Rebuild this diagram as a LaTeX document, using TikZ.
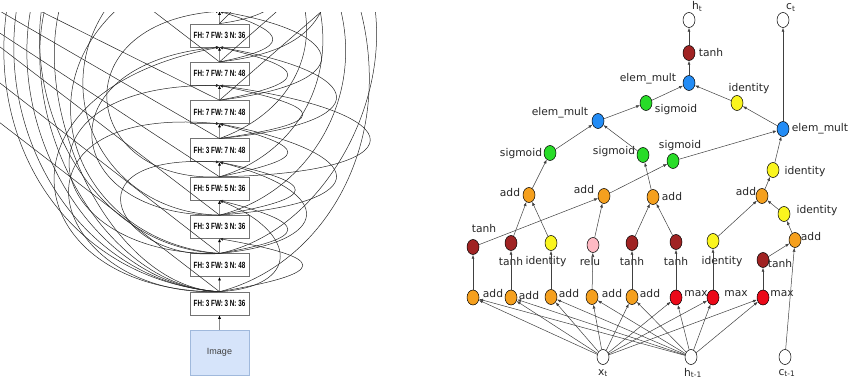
\documentclass[tikz,border=0pt]{standalone}
\usepackage{fontspec}
\setmainfont{DejaVu Sans}
\newfontfamily\boxfont{Liberation Sans}
\usepackage{graphicx}
\usetikzlibrary{arrows.meta,shapes.geometric}
\definecolor{cOrange}{RGB}{245,160,30}
\definecolor{cBrown}{RGB}{160,35,35}
\definecolor{cYellow}{RGB}{250,245,30}
\definecolor{cPink}{RGB}{255,185,195}
\definecolor{cGreen}{RGB}{40,220,40}
\definecolor{cBlue}{RGB}{35,140,245}
\definecolor{cRed}{RGB}{235,10,25}
\definecolor{imgfill}{RGB}{214,228,250}
\definecolor{imgborder}{RGB}{160,185,220}
\newcommand\boxtxt[1]{\scalebox{0.7}[1]{\boxfont\bfseries\fontsize{9}{10}\selectfont #1}}
\begin{document}
\begin{tikzpicture}[x=1pt,y=1pt,
  cbox/.style={draw=black!55, fill=white, line width=0.6pt, minimum width=59pt, minimum height=23pt, inner sep=0pt},
  imgbox/.style={draw=imgborder, fill=imgfill, line width=0.6pt, minimum width=59pt, minimum height=45pt, inner sep=0pt, font=\boxfont\fontsize{9}{10}\selectfont, text=black!75},
  vlink/.style={draw=black!45, line width=0.6pt, -{Latex[length=3.5pt,width=3pt,color=black]}},
  skip/.style={draw=black!85, line width=0.5pt, -{Latex[length=3.5pt,width=3pt]}},
  op/.style={ellipse, draw=black, line width=0.5pt, minimum width=12pt, minimum height=15pt, inner sep=0pt},
  lbl/.style={inner sep=0pt, font=\fontsize{10.7}{12}\selectfont, text=black!85},
  link/.style={draw=black!75, line width=0.5pt, -{Latex[length=4pt,width=3pt]}},
]
\useasboundingbox (0,0) rectangle (865,383);
\clip (0,0) rectangle (865,383);
% ---------------- left panel ----------------
\begin{scope}
\clip (0,0) rectangle (440,370);
\node[cbox] (b0) at (219.5,383.5) {};
\node[cbox] (b1) at (219.5,347.6) {\boxtxt{FH: 7 FW: 3 N: 36}};
\node[cbox] (b2) at (219.5,309.3) {\boxtxt{FH: 7 FW: 7 N: 48}};
\node[cbox] (b3) at (219.5,271.0) {\boxtxt{FH: 7 FW: 7 N: 48}};
\node[cbox] (b4) at (219.5,232.7) {\boxtxt{FH: 3 FW: 7 N: 48}};
\node[cbox] (b5) at (219.5,194.4) {\boxtxt{FH: 5 FW: 5 N: 36}};
\node[cbox] (b6) at (219.5,156.1) {\boxtxt{FH: 3 FW: 3 N: 36}};
\node[cbox] (b7) at (219.5,117.8) {\boxtxt{FH: 3 FW: 3 N: 48}};
\node[cbox] (b8) at (219.5,79.5) {\boxtxt{FH: 3 FW: 3 N: 36}};
\node[imgbox] (img) at (219.5,30.5) {Image};
\draw[vlink] (img) -- (b8);
\draw[vlink] (b8) -- (b7);
\draw[vlink] (b7) -- (b6);
\draw[vlink] (b6) -- (b5);
\draw[vlink] (b5) -- (b4);
\draw[vlink] (b4) -- (b3);
\draw[vlink] (b3) -- (b2);
\draw[vlink] (b2) -- (b1);
\draw[vlink] (b1) -- (b0);
% free ends beyond the top / left edge
\coordinate (el1) at (20,392);
\coordinate (el2) at (35,392);
\coordinate (el3) at (10,392);
\coordinate (el4) at (50,392);
\coordinate (el5) at (65,392);
\coordinate (el6) at (45,392);
\coordinate (el7) at (140,392);
\coordinate (el8) at (120,392);
\coordinate (el9) at (-40,366.7);
\coordinate (el10) at (-40,376);
\coordinate (el11) at (-40,395);
\coordinate (el12) at (-40,291);
\coordinate (el13) at (20,382);
\coordinate (el14) at (140,382);
\coordinate (el15) at (-40,331);
\coordinate (er1) at (355,392);
\coordinate (er2) at (372,392);
\coordinate (er3) at (335,392);
\coordinate (er4) at (315,392);
\coordinate (er5) at (300,392);
\coordinate (er6) at (345,392);
\coordinate (er7) at (300,392);
\coordinate (er8) at (252,392);
\coordinate (er9) at (285,392);
\coordinate (er10) at (328,392);
% left C-shaped arcs leaving the picture at the top
\draw[skip] (b8.north) .. controls (80,100) and (-10,250) .. (el1);
\draw[skip] (b8.north) .. controls (90,98) and (0,260) .. (el2);
\draw[skip] (b8.north) .. controls (70,103) and (-20,240) .. (el3);
\draw[skip] (b8.north) .. controls (100,96) and (10,270) .. (el4);
\draw[skip] (b8.north) .. controls (110,95) and (25,280) .. (el5);
\draw[skip] (b7.north) .. controls (90,135) and (20,280) .. (el6);
\draw[skip] (b7.north) .. controls (80,140) and (10,300) .. (el7);
\draw[skip] (b6.north) .. controls (100,170) and (40,300) .. (el8);
% left arcs coming back to boxes
\draw[skip] (b8.north) .. controls (20,90) and (-20,290) .. (b1.south);
\draw[skip] (b7.north) .. controls (40,125) and (0,300) .. (b2.south);
\draw[skip] (b8.north) .. controls (50,85) and (-10,280) .. (b3.south);
\draw[skip] (b6.north) .. controls (60,165) and (40,320) .. (b1.south);
\draw[skip] (b5.north) .. controls (80,200) and (60,360) .. (b0.south);
\draw[skip] (b7.north) .. controls (120,120) and (60,230) .. (b4.south);
% straight lines to the upper left
\draw[skip] (b3.north) -- (el13);
\draw[skip] (b5.north) -- (el10);
\draw[skip] (b6.north) -- (el9);
\draw[skip] (b4.north) -- (el11);
\draw[skip] (b2.north) -- (el14);
\draw[skip] (b7.north) -- (el15);
\draw[skip] (b8.north) -- (el12);
% right loops
\draw[skip] (b8.north) .. controls (330,110) and (330,125) .. (b6.south);
\draw[skip] (b8.north) .. controls (300,96) and (300,150) .. (b5.south);
\draw[skip] (b7.north) .. controls (310,145) and (310,160) .. (b5.south);
\draw[skip] (b7.north) .. controls (330,140) and (340,190) .. (b4.south);
\draw[skip] (b6.north) .. controls (320,185) and (320,200) .. (b4.south);
\draw[skip] (b6.north) .. controls (380,180) and (370,230) .. (b3.south);
\draw[skip] (b5.north) .. controls (310,225) and (310,235) .. (b3.south);
\draw[skip] (b5.north) .. controls (420,210) and (420,270) .. (b2.south);
\draw[skip] (b4.north) .. controls (330,260) and (330,275) .. (b2.south);
\draw[skip] (b4.north) .. controls (380,260) and (370,310) .. (b1.south);
\draw[skip] (b3.north) .. controls (310,300) and (310,315) .. (b1.south);
\draw[skip] (b3.north) .. controls (360,300) and (350,350) .. (b0.south);
\draw[skip] (b2.north) .. controls (290,335) and (290,350) .. (b0.south);
% right arcs leaving the picture at the top
\draw[skip] (b8.north) .. controls (330,120) and (400,250) .. (er1);
\draw[skip] (b7.north) .. controls (320,150) and (395,280) .. (er2);
\draw[skip] (b6.north) .. controls (310,190) and (370,290) .. (er3);
\draw[skip] (b5.north) .. controls (300,230) and (340,310) .. (er4);
\draw[skip] (b4.north) .. controls (290,270) and (320,330) .. (er5);
\draw[skip] (b3.north) -- (er6);
\draw[skip] (b2.north) -- (er7);
\draw[skip] (b1.north) -- (er8);
\draw[skip] (b1.north) .. controls (260,365) and (275,375) .. (er9);
\draw[skip] (b2.north) .. controls (300,330) and (320,360) .. (er10);
\end{scope}
% ---------------- right panel ----------------
\node[op,fill=white] (xt) at (603,26) {};
\node[op,fill=white] (hp) at (691,26) {};
\node[op,fill=white] (cp) at (785,26) {};
\node[op,fill=cOrange] (a1) at (473,85.5) {};
\node[op,fill=cOrange] (a2) at (511,85.5) {};
\node[op,fill=cOrange] (a3) at (551,86) {};
\node[op,fill=cOrange] (a4) at (592,86) {};
\node[op,fill=cOrange] (a5) at (632,86) {};
\node[op,fill=cRed] (m1) at (676,85.5) {};
\node[op,fill=cRed] (m2) at (713,85.5) {};
\node[op,fill=cRed] (m3) at (763,85.5) {};
\node[op,fill=cBrown] (t1) at (473,136) {};
\node[op,fill=cBrown] (t2) at (511,140) {};
\node[op,fill=cYellow] (i1) at (551,140) {};
\node[op,fill=cPink] (r1) at (593,138) {};
\node[op,fill=cBrown] (t3) at (632,140) {};
\node[op,fill=cBrown] (t4) at (676,141) {};
\node[op,fill=cYellow] (i2) at (713,142) {};
\node[op,fill=cBrown] (t5) at (763,123) {};
\node[op,fill=cOrange] (a6) at (795,143) {};
\node[op,fill=cYellow] (i3) at (784,169) {};
\node[op,fill=cOrange] (a7) at (762,187) {};
\node[op,fill=cOrange] (a8) at (529,188) {};
\node[op,fill=cOrange] (a9) at (604,187) {};
\node[op,fill=cOrange] (a10) at (653,186) {};
\node[op,fill=cGreen] (s1) at (550,230) {};
\node[op,fill=cGreen] (s2) at (643,228) {};
\node[op,fill=cGreen] (s3) at (673,222) {};
\node[op,fill=cYellow] (i4) at (773,213) {};
\node[op,fill=cBlue] (e1) at (598,262) {};
\node[op,fill=cBlue] (e2) at (783,254) {};
\node[op,fill=cGreen] (s4) at (646,280) {};
\node[op,fill=cYellow] (i5) at (737,280) {};
\node[op,fill=cBlue] (e3) at (689,300) {};
\node[op,fill=cBrown] (t6) at (689,330) {};
\node[op,fill=white] (hc) at (689,363) {};
\node[op,fill=white] (cc) at (783,363) {};
% labels
\node[lbl] (lxt) at (603,10) {x\textsubscript{t}};
\node[lbl] (lhp) at (693,10) {h\textsubscript{t-1}};
\node[lbl] (lcp) at (787,10) {c\textsubscript{t-1}};
\node[lbl,anchor=base west] (lhc) at (692,373) {h\textsubscript{t}};
\node[lbl,anchor=base west] (lcc) at (786,373) {c\textsubscript{t}};
\node[lbl] at (493,89) {add};
\node[lbl] at (529,87) {add};
\node[lbl] at (569,89) {add};
\node[lbl] at (612,89) {add};
\node[lbl] at (650,89) {add};
\node[lbl] at (696,89) {max};
\node[lbl] at (736,89) {max};
\node[lbl] at (782,89) {max};
\node[lbl] at (484,154) {tanh};
\node[lbl] at (511,121) {tanh};
\node[lbl] at (546,121) {identity};
\node[lbl] at (590,121) {relu};
\node[lbl] at (632,121) {tanh};
\node[lbl] at (676,121) {tanh};
\node[lbl] at (722,121) {identity};
\node[lbl] at (780,119) {tanh};
\node[lbl] at (811,146) {add};
\node[lbl] at (817,172) {identity};
\node[lbl] at (746,191) {add};
\node[lbl] at (510,190) {add};
\node[lbl] at (584,193) {add};
\node[lbl] at (672,186) {add};
\node[lbl] at (521,229) {sigmoid};
\node[lbl] at (614,231) {sigmoid};
\node[lbl] at (680,237) {sigmoid};
\node[lbl] at (805,211) {identity};
\node[lbl] at (560,270) {elem\_mult};
\node[lbl] at (820,254) {elem\_mult};
\node[lbl] at (676,273) {sigmoid};
\node[lbl] at (749,294) {identity};
\node[lbl] at (648,304) {elem\_mult};
\node[lbl] at (711,330) {tanh};
% edges
\foreach \s in {xt,hp}{
  \foreach \t in {a1,a2,a3,a4,a5,m1,m2,m3}{
    \draw[link] (\s) -- (\t);
  }
}
\draw[link] (a1) -- (t1);
\draw[link] (a2) -- (t2);
\draw[link] (a3) -- (i1);
\draw[link] (a4) -- (r1);
\draw[link] (a5) -- (t3);
\draw[link] (m1) -- (t4);
\draw[link] (m2) -- (i2);
\draw[link] (m3) -- (t5);
\draw[link] (t1) -- (a9);
\draw[link] (t2) -- (a8);
\draw[link] (i1) -- (a8);
\draw[link] (r1) -- (a9);
\draw[link] (t3) -- (a10);
\draw[link] (t4) -- (a10);
\draw[link] (i2) -- (a7);
\draw[link] (t5) -- (a6);
\draw[link] (cp) -- (a6);
\draw[link] (a6) -- (i3);
\draw[link] (i3) -- (a7);
\draw[link] (a8) -- (s1);
\draw[link] (a9) -- (s3);
\draw[link] (a10) -- (s2);
\draw[link] (a7) -- (i4);
\draw[link] (s1) -- (e1);
\draw[link] (s2) -- (e1);
\draw[link] (s3) -- (e2);
\draw[link] (i4) -- (e2);
\draw[link] (e1) -- (s4);
\draw[link] (e2) -- (i5);
\draw[link] (e2) -- (cc);
\draw[link] (s4) -- (e3);
\draw[link] (i5) -- (e3);
\draw[link] (e3) -- (t6);
\draw[link] (t6) -- (hc);
\end{tikzpicture}
\end{document}
